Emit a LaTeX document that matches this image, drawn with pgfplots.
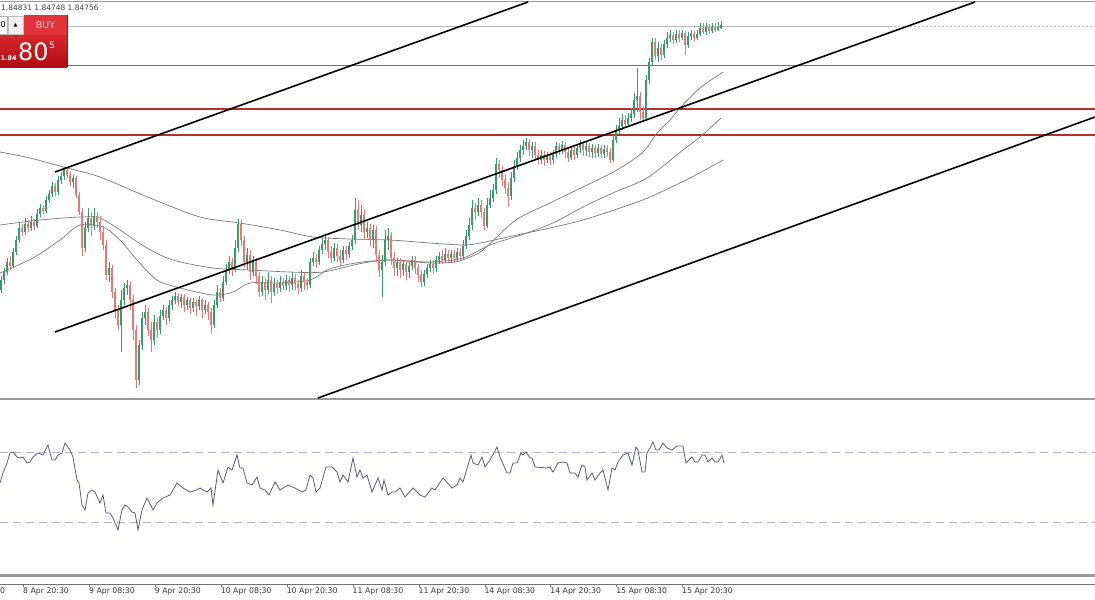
\documentclass[border=0pt]{standalone}
\usepackage{pgfplots}
\usepackage{pgfplotstable}
\pgfplotsset{compat=1.18}
\usepackage{fontspec}
\setmainfont{DejaVu Sans}
\definecolor{cgreen}{RGB}{52,155,105}
\definecolor{cred}{RGB}{232,120,120}
\definecolor{magray}{RGB}{120,120,120}
\definecolor{hblue}{RGB}{60,128,165}
\definecolor{hred}{RGB}{185,45,45}
\definecolor{rsic}{RGB}{90,90,125}
\definecolor{rsilev}{RGB}{175,175,200}
\definecolor{sep}{RGB}{155,155,155}
\definecolor{buyred}{RGB}{222,52,58}
\definecolor{buytext}{RGB}{255,200,200}
\definecolor{ptop}{RGB}{214,38,44}
\definecolor{pbot}{RGB}{178,12,18}
\definecolor{pedge}{RGB}{150,20,20}
% x = pixel column, o/c = open/close, t/b = wick top/bottom (pixel rows from the top)
\pgfplotstableread{
x o c t b
1 290 280 276 293
4 280 272 268 284
7 272 262 258 275
13 266 252 248 268
16 252 240 236 255
19 240 228 222 243
25 232 224 218 235
31 228 222 216 231
37 226 214 209 228
40 214 208 204 217
46 211 200 196 213
49 200 194 190 203
52 194 186 182 197
58 192 180 176 195
61 180 176 172 184
64 176 170 167 180
73 182 178 175 188
85 248 228 222 252
88 228 218 208 232
94 226 216 208 230
109 275 268 262 282
121 325 300 290 352
124 300 288 283 305
127 288 285 280 295
139 380 345 340 385
142 345 318 312 350
145 318 312 305 325
154 340 322 315 345
160 330 316 310 334
163 316 310 305 320
169 318 305 300 321
172 305 300 296 310
175 300 296 292 304
181 302 297 294 308
187 305 300 297 310
193 308 302 298 312
199 306 300 296 310
205 310 305 300 314
214 325 305 300 328
217 305 292 285 308
223 298 282 276 301
226 282 270 264 285
229 270 262 256 274
235 270 248 240 272
238 248 224 219 252
247 262 255 248 270
253 272 262 256 276
262 292 282 276 296
268 290 280 272 294
274 292 284 278 296
280 288 282 276 292
286 286 280 275 290
292 285 278 272 290
301 288 276 270 292
310 285 262 258 288
313 262 258 252 266
319 262 250 246 265
322 250 244 238 254
325 244 240 236 250
334 258 248 243 261
343 260 250 246 263
349 254 246 242 258
352 246 240 235 250
355 240 210 198 244
361 225 215 205 232
367 232 228 222 238
373 240 230 225 248
382 270 262 255 297
385 262 240 230 266
388 240 236 228 250
397 268 262 258 276
403 270 264 260 276
409 272 266 262 278
412 266 260 256 270
424 282 274 270 286
427 274 268 264 278
430 268 264 260 272
436 268 260 256 272
439 260 256 252 264
445 260 254 248 263
451 258 254 250 262
457 258 252 248 261
463 256 246 240 259
466 246 236 230 249
469 236 225 218 240
472 225 208 200 230
478 212 205 198 216
487 226 205 198 228
490 205 198 190 208
493 198 190 184 202
496 190 164 158 194
511 196 178 172 200
514 178 166 160 182
517 166 158 152 170
520 158 150 145 162
523 150 146 140 155
526 146 142 138 150
532 150 146 142 158
541 160 155 150 164
547 160 156 152 163
553 160 154 150 164
556 154 146 142 158
562 150 145 141 154
571 158 150 146 160
577 155 148 144 158
580 148 144 140 153
586 150 146 142 156
592 152 148 144 158
598 153 148 144 157
604 154 149 145 158
613 160 140 135 162
616 140 130 125 143
619 130 126 118 134
622 126 120 114 130
628 124 118 113 127
631 118 114 108 122
634 114 100 93 118
637 100 96 68 112
646 118 80 75 120
649 80 62 58 84
652 62 42 38 66
658 56 48 42 62
664 55 44 40 58
667 44 38 32 48
670 38 35 30 42
676 40 34 30 43
682 38 33 30 40
688 45 36 32 48
691 36 34 30 40
697 38 34 30 40
700 34 28 23 36
706 32 27 23 35
712 31 27 23 33
718 30 27 22 31
721 28 25 21 29
}\upcandles
\pgfplotstableread{
x o c t b
10 262 266 256 270
22 228 232 224 236
28 224 228 220 232
34 222 226 219 230
43 208 211 205 214
55 186 192 183 196
67 170 175 168 178
70 175 182 172 186
76 178 195 176 198
79 195 212 192 215
82 212 248 208 256
91 218 226 212 236
97 216 222 212 228
100 222 232 216 240
103 232 245 226 250
106 245 275 240 280
112 268 292 265 298
115 292 310 288 318
118 310 325 305 330
130 285 300 282 310
133 300 330 295 340
136 330 380 325 388
148 312 330 308 336
151 330 340 322 352
157 322 330 318 338
166 310 318 307 325
178 296 302 293 306
184 297 305 294 312
190 300 308 298 314
196 302 306 299 316
202 300 310 298 318
208 305 312 302 320
211 312 325 308 334
220 292 298 288 302
232 262 270 258 276
241 224 240 220 246
244 240 262 236 268
250 255 272 250 280
256 262 276 258 284
259 276 292 272 297
265 282 290 278 300
271 280 292 276 303
277 284 288 280 294
283 282 286 278 290
289 280 285 276 292
295 278 284 274 290
298 284 288 280 294
304 276 282 272 290
307 282 285 278 290
316 258 262 254 268
328 240 252 237 258
331 252 258 246 263
337 248 256 244 262
340 256 260 250 266
346 250 254 246 260
358 210 225 200 230
364 215 232 210 240
370 228 240 224 246
376 230 255 226 262
379 255 270 250 277
391 236 258 232 265
394 258 268 252 276
400 262 270 258 278
406 264 272 260 280
415 260 268 256 274
418 268 275 264 282
421 275 282 270 287
433 264 268 260 274
442 256 260 250 264
448 254 258 250 263
454 254 258 250 263
460 252 256 248 260
475 208 212 203 220
481 205 212 200 218
484 212 226 208 230
499 164 170 160 178
502 170 180 166 186
505 180 188 174 194
508 188 196 182 207
529 142 150 139 156
535 146 155 142 160
538 155 160 150 164
544 155 160 151 166
550 156 160 152 165
559 146 150 143 155
565 145 152 142 158
568 152 158 148 162
574 150 155 147 160
583 144 150 141 156
589 146 152 143 157
595 148 153 145 158
601 148 154 145 158
607 149 152 145 157
610 152 160 148 163
625 120 124 115 128
640 96 112 92 120
643 112 118 106 122
655 42 56 38 60
661 48 55 44 60
673 35 40 32 44
679 34 38 30 42
685 33 45 31 55
694 34 38 31 41
703 28 32 23 34
709 27 31 24 34
715 27 30 23 32
}\dncandles
\begin{document}
\begin{tikzpicture}
\useasboundingbox (0,0) rectangle (1095bp,600bp);
\clip (0,0) rectangle (1095bp,600bp);
\begin{axis}[at={(0,0)}, anchor=south west, scale only axis,
  width=1095bp, height=600bp, xmin=0, xmax=1095, ymin=0, ymax=600,
  y dir=reverse, axis lines=none, xtick=\empty, ytick=\empty]
% borders and separators
\addplot[sep, line width=0.9bp] coordinates {(0,1.5) (1095,1.5)};
\addplot[sep, line width=2.2bp] coordinates {(0,399) (1095,399)};
\addplot[sep, line width=3bp] coordinates {(0,575.5) (1095,575.5)};
% horizontal levels
\addplot[gray!55, line width=0.9bp] coordinates {(60,26) (890,26)};
\addplot[gray!55, line width=0.9bp, dash pattern=on 2bp off 2bp] coordinates {(890,26) (1095,26)};
\addplot[hblue, line width=1.3bp] coordinates {(60,65.5) (1095,65.5)};
\addplot[hred, line width=1.2bp] coordinates {(0,109) (1095,109)};
\addplot[hred, line width=1.2bp] coordinates {(0,135) (1095,135)};
% moving averages
\addplot[magray, line width=0.7bp, smooth] coordinates {(0,152) (30,158) (67,168) (100,177) (150,198) (200,217) (240,223) (280,230) (313,237) (350,239) (390,240) (430,243) (463,245) (480,243) (517,235) (550,228) (583,220) (620,208) (650,197) (690,178) (723,160)};
\addplot[magray, line width=0.7bp, smooth] coordinates {(0,225) (40,220) (80,217) (100,218) (120,230) (147,248) (173,260) (213,268) (250,270) (290,272) (323,272) (363,263) (390,260) (430,262) (463,258) (490,245) (527,233) (555,222) (583,207) (615,192) (647,178) (683,150) (700,137) (721,118)};
\addplot[magray, line width=0.7bp, smooth] coordinates {(0,273) (33,258) (60,240) (80,225) (103,227) (120,240) (137,260) (157,280) (180,288) (213,295) (233,292) (250,283) (280,283) (310,280) (327,270) (345,265) (363,262) (390,260) (430,263) (455,262) (470,257) (483,250) (516,220) (550,203) (583,187) (617,170) (643,152) (657,133) (670,120) (680,108) (700,88) (723,72)};
% candles: wicks (top to bottom)
\addplot[cgreen, line width=0.8bp, -, quiver={u=0, v=\thisrow{b}-\thisrow{t}}] table[x=x, y=t] {\upcandles};
\addplot[cred, line width=0.8bp, -, quiver={u=0, v=\thisrow{b}-\thisrow{t}}] table[x=x, y=t] {\dncandles};
% candles: bodies (open to close)
\addplot[cgreen, line width=2.1bp, -, quiver={u=0, v=\thisrow{c}-\thisrow{o}}] table[x=x, y=o] {\upcandles};
\addplot[cred, line width=2.1bp, -, quiver={u=0, v=\thisrow{c}-\thisrow{o}}] table[x=x, y=o] {\dncandles};
% channel lines
\addplot[black, line width=1.6bp] coordinates {(55,172) (528,2)};
\addplot[black, line width=1.6bp] coordinates {(55,332) (975,2)};
\addplot[black, line width=1.6bp] coordinates {(318,398) (1095,117)};
% RSI panel
\addplot[rsilev, line width=0.8bp, dash pattern=on 8bp off 5bp] coordinates {(0,452) (1095,452)};
\addplot[rsilev, line width=0.8bp, dash pattern=on 8bp off 5bp] coordinates {(0,522) (1095,522)};
\addplot[rsic, line width=0.8bp] coordinates {(0,483) (3,473) (7,463) (10,453) (13,452) (17,457) (20,458) (23,457) (27,463) (30,462) (33,457) (38,453) (43,455) (48,445) (52,460) (55,460) (58,455) (62,453) (65,443) (70,450) (73,457) (77,480) (79,483) (82,505) (85,510) (88,493) (92,490) (95,492) (100,503) (103,495) (106,513) (110,513) (113,518) (118,530) (122,510) (125,505) (128,507) (132,512) (135,513) (138,530) (142,510) (147,498) (153,510) (157,503) (163,498) (170,495) (177,483) (183,488) (190,492) (197,490) (200,488) (207,492) (211,488) (213,505) (218,470) (223,483) (228,467) (232,470) (237,455) (240,468) (243,468) (247,483) (252,485) (257,477) (260,488) (265,490) (269,495) (275,482) (280,490) (288,485) (295,488) (302,492) (306,490) (310,475) (313,478) (316,492) (320,488) (326,467) (332,467) (337,472) (340,482) (343,475) (348,482) (353,458) (357,477) (360,470) (363,478) (367,475) (372,492) (378,478) (382,490) (384,480) (388,495) (392,492) (395,492) (400,488) (405,497) (413,488) (420,495) (425,497) (432,488) (435,490) (443,478) (452,488) (457,485) (460,478) (463,482) (471,455) (473,463) (478,465) (482,457) (485,467) (490,460) (497,447) (500,457) (507,473) (510,473) (513,463) (517,463) (521,453) (523,455) (526,452) (530,458) (532,458) (535,467) (547,468) (550,467) (553,472) (558,463) (563,462) (567,463) (570,473) (575,473) (578,477) (582,465) (585,467) (587,480) (592,473) (595,480) (600,473) (603,470) (608,490) (612,468) (615,470) (618,462) (623,455) (628,453) (632,465) (636,447) (638,450) (642,472) (645,472) (647,453) (650,448) (653,442) (656,450) (659,450) (663,443) (667,448) (672,450) (677,446) (683,446) (686,463) (692,457) (695,462) (698,462) (702,455) (705,455) (708,462) (712,458) (715,462) (718,462) (722,455) (724,463)};
% header text and trade panel
\node[anchor=west, inner sep=0pt, font=\fontsize{7.5}{8}\selectfont, text=black!75] at (axis cs:1,8) {1.84831 1.84748 1.84756};
\draw[gray!60, fill=white] (axis cs:-2,16) rectangle (axis cs:7,34);
\node[anchor=east, inner sep=0pt, font=\fontsize{8}{8}\selectfont] at (axis cs:6,25) {0};
\draw[gray!50, fill=gray!12] (axis cs:8,16) rectangle (axis cs:23,34);
\node[inner sep=0pt, font=\fontsize{5}{5}\selectfont] at (axis cs:15.5,25) {▲};
\fill[buyred] (axis cs:24,15) rectangle (axis cs:67,35);
\node[inner sep=0pt, font=\fontsize{9.5}{10}\selectfont, text=buytext] at (axis cs:45.5,25.5) {BUY};
\shade[top color=ptop, bottom color=pbot] (axis cs:0,35) rectangle (axis cs:67,67);
\draw[draw=pedge, line width=0.6bp] (axis cs:67,15) -- (axis cs:67,67);
\node[anchor=base west, inner sep=0pt, font=\bfseries\fontsize{6.5}{7}\selectfont, text=white] at (axis cs:0.5,60) {1.84};
\node[anchor=base west, inner sep=0pt, font=\fontsize{24}{24}\selectfont, text=white] at (axis cs:18,60) {80};
\node[anchor=base west, inner sep=0pt, font=\fontsize{9}{9}\selectfont, text=white] at (axis cs:49,48) {5};
\node[anchor=north west, inner sep=0pt, font=\fontsize{7.8}{9}\selectfont, text=black!80] at (axis cs:0,588) {0};
\end{axis}
% time axis
\begin{axis}[at={(0,16bp)}, anchor=south west, scale only axis,
  width=1095bp, height=8bp, xmin=0, xmax=1095, ymin=0, ymax=1,
  axis x line=bottom, axis y line=none,
  x axis line style={-, draw=black!55, line width=0.8bp},
  xtick={23.5,89.4,155.3,221.2,287.1,353.0,418.9,484.8,550.7,616.6,682.5},
  xticklabels={8 Apr 20:30,9 Apr 08:30,9 Apr 20:30,10 Apr 08:30,10 Apr 20:30,11 Apr 08:30,11 Apr 20:30,14 Apr 08:30,14 Apr 20:30,15 Apr 08:30,15 Apr 20:30},
  tick align=outside, major tick length=3bp, tick style={black!55, line width=0.6bp},
  xticklabel style={anchor=north west, inner sep=0pt, xshift=-0.5bp, yshift=-1bp, font=\fontsize{7.8}{9}\selectfont, text=black!80}]
\addplot[draw=none] coordinates {(0,0.5)};
\end{axis}
\end{tikzpicture}
\end{document}
